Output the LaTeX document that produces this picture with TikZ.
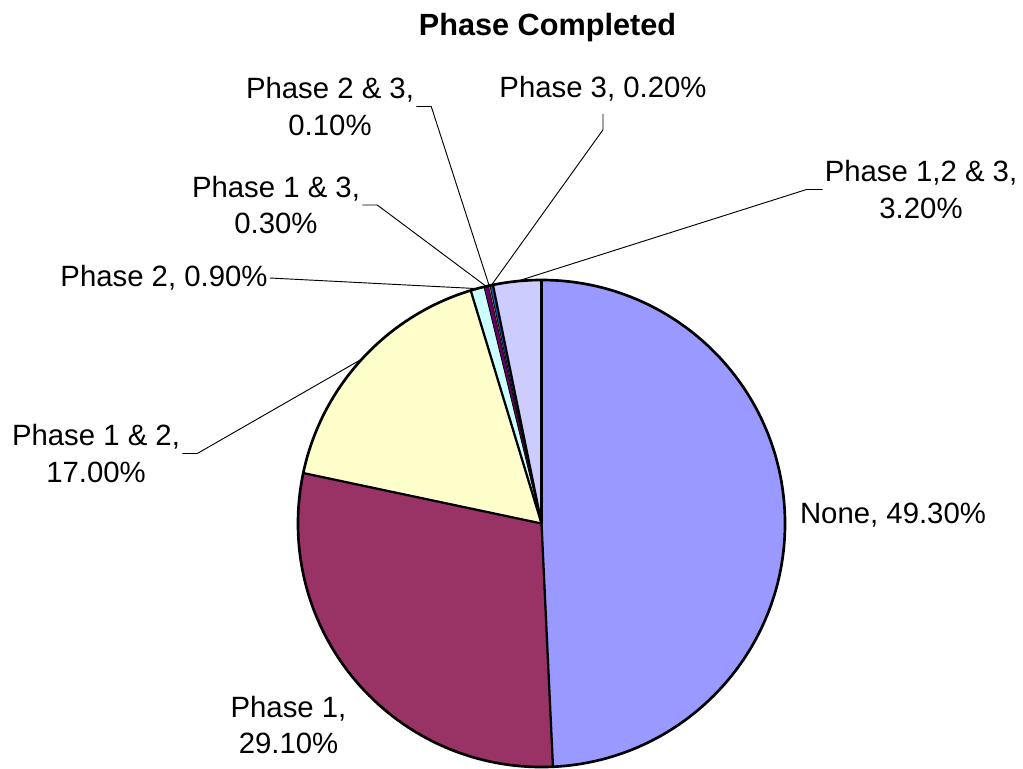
\documentclass[tikz,border=0pt]{standalone}
\usepackage{fontspec}
\setmainfont{Liberation Sans}
\definecolor{cNone}{HTML}{9999FF}
\definecolor{cPa}{HTML}{993366}
\definecolor{cPab}{HTML}{FFFFCC}
\definecolor{cPb}{HTML}{CCFFFF}
\definecolor{cPac}{HTML}{660066}
\definecolor{cPbc}{HTML}{FF8080}
\definecolor{cPc}{HTML}{0066CC}
\definecolor{cPabc}{HTML}{CCCCFF}
\newcommand\pieslice[3]{\fill[#3] (C) -- ++(#1:\R) arc[start angle=#1,end angle=#2,radius=\R] -- cycle;}
\begin{document}
\begin{tikzpicture}[x=0.75pt,y=-0.75pt,
  lbl/.style={font=\fontsize{22}{27.5}\selectfont, align=center, inner sep=1.5pt},
  ttl/.style={font=\fontsize{23}{27}\selectfont\bfseries, inner sep=0pt},
  leader/.style={draw=black, line width=0.7pt},
  major/.style={line width=1.7pt, line cap=round},
  minor/.style={line width=0.6pt}]
\useasboundingbox (0,0) rectangle (1023,768);
\coordinate (C) at (541.5,523.5);
\def\R{243.5}
% slices (clockwise from 12 o'clock)
\pieslice{-90}{87.30}{cNone}
\pieslice{87.30}{191.96}{cPa}
\pieslice{191.96}{253.10}{cPab}
\pieslice{253.10}{256.33}{cPb}
\pieslice{256.33}{257.41}{cPac}
\pieslice{257.41}{257.77}{cPbc}
\pieslice{257.77}{258.49}{cPc}
\pieslice{258.49}{270}{cPabc}
\foreach \a in {-90,87.30,191.96,253.10,258.49} \draw[major] (C) -- ++(\a:\R);
\foreach \a in {256.33,257.41,257.77} \draw[minor] (C) -- ++(\a:\R);
\draw[line width=2pt] (C) circle[radius=\R];
% leader end points on the rim
\path (C) ++(222.53:\R) coordinate (pab);
\path (C) ++(254.72:\R) coordinate (pb);
\path (C) ++(256.87:\R) coordinate (pac);
\path (C) ++(257.59:\R) coordinate (pbc);
\path (C) ++(258.13:\R) coordinate (pc);
\path (C) ++(264.25:\R) coordinate (pabc);
% title
\node[ttl] (title) at (547.5,28) {Phase Completed};
% labels
\node[lbl] (lnone) at (893,515) {None, 49.30\%};
\node[lbl] (la) at (288.5,725) {Phase 1,\\29.10\%};
\node[lbl] (lab) at (96,453.5) {Phase 1 \& 2,\\17.00\%};
\node[lbl] (lb) at (164,278) {Phase 2, 0.90\%};
\node[lbl] (lac) at (276,205) {Phase 1 \& 3,\\0.30\%};
\node[lbl] (lbc) at (330,106.5) {Phase 2 \& 3,\\0.10\%};
\node[lbl] (lc) at (603,89) {Phase 3, 0.20\%};
\node[lbl] (labc) at (921,189.5) {Phase 1,2 \& 3,\\3.20\%};
% leader lines
\draw[leader] (lab.east) -- ++(15,0) -- (pab);
\draw[leader] (lb.east) -- (pb);
\draw[leader] (lac.east) -- ++(15,0) -- (pac);
\draw[leader] (lbc.east) -- ++(15,0) -- (pbc);
\draw[leader] (lc.south) ++(0,10) -- ++(0,16) -- (pc);
\draw[leader] (labc.west) -- ++(-16,0) -- (pabc);
\end{tikzpicture}
\end{document}
